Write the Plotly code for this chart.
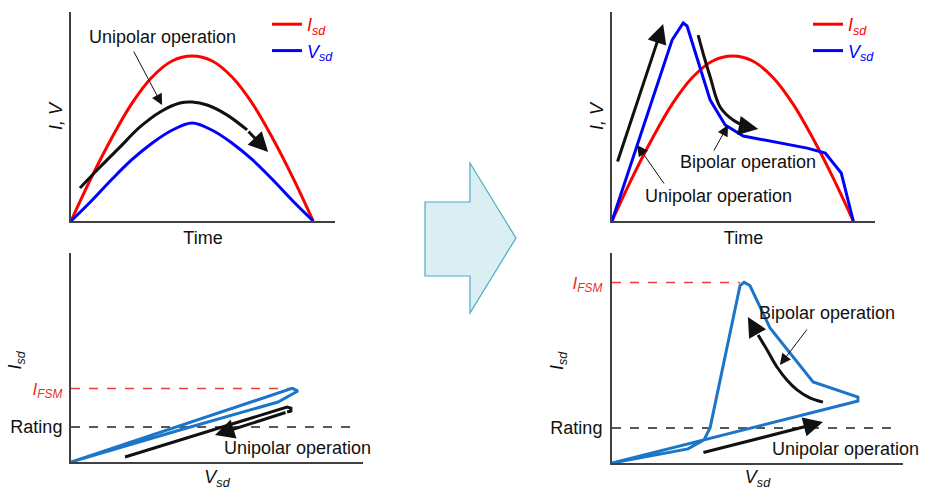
import plotly.graph_objects as go

W, H = 931, 490
FONT = "Liberation Sans, Arial, sans-serif"
RED = "#ff0000"
BLUE = "#0000ff"
LOOP = "#1b75c8"
INK = "#111111"
AXIS = "#404040"
FS = 18

# ---------------- data ----------------
# Panel A: unipolar operation, time waveforms (normalised)
t_a = [0, 0.083, 0.167, 0.25, 0.333, 0.417, 0.5, 0.583, 0.667, 0.75, 0.833, 0.917, 1.0]
isd_a = [0, 0.26, 0.5, 0.71, 0.87, 0.97, 1.0, 0.97, 0.87, 0.71, 0.5, 0.26, 0]
vsd_a = [0, 0.12, 0.25, 0.37, 0.47, 0.55, 0.594, 0.55, 0.47, 0.37, 0.25, 0.12, 0]
arrow_a_t = [0.037, 0.12, 0.202, 0.285, 0.368, 0.45, 0.5, 0.562, 0.645, 0.727]
arrow_a_v = [0.2, 0.327, 0.448, 0.57, 0.661, 0.715, 0.721, 0.703, 0.642, 0.552]
arrow_a_tip = (0.814, 0.418)

# Panel B: unipolar I-V loop
vb_loop = [0, 7.57, 7.77, 7.09, 3.73, 0]
ib_loop = [0, 3.52, 3.40, 2.87, 1.53, 0]
vb_arrow = [1.85, 7.40, 7.53, 7.53, 7.40]
ib_arrow = [0.24, 2.63, 2.58, 2.44, 2.39]
arrow_b_tip = (4.93, 1.29)
IFSM_B = 3.52
RATING = 1.67

# Panel C: bipolar operation, time waveforms
t_c = t_a
isd_c = isd_a
vt_c = [0, 0.249, 0.295, 0.311, 0.407, 0.469, 0.544, 0.697, 0.809, 0.884, 0.95, 1.0]
vv_c = [0, 1.097, 1.2, 1.182, 0.733, 0.582, 0.515, 0.473, 0.442, 0.412, 0.291, 0]
arrow_c1 = [(0.021, 0.352), (0.212, 1.194)]
arrow_c2_t = [0.357, 0.382, 0.407, 0.448, 0.502, 0.56]
arrow_c2_v = [1.127, 0.994, 0.873, 0.691, 0.612, 0.57]
arrow_c2_tip = (0.606, 0.558)

# Panel D: bipolar I-V loop
vd_loop = [0, 2.61, 3.16, 3.37, 4.40, 4.54, 4.74, 5.43, 6.91, 8.45, 8.45, 0]
id_loop = [0, 0.67, 1.10, 1.67, 8.45, 8.60, 8.45, 6.43, 3.86, 3.14, 2.95, 0]
IFSM_D = 8.6
arrow_d1 = [(3.09, 0.48), (7.25, 1.95)]
arrow_d2_v = [7.25, 6.80, 6.36, 6.01, 5.67, 5.33, 5.02]
arrow_d2_i = [2.90, 3.10, 3.48, 3.95, 4.57, 5.38, 6.10]
arrow_d2_tip = (4.67, 6.95)

# ---------------- figure ----------------
fig = go.Figure()


def px_x(p):
    return p / W


def px_y(p):
    return 1 - p / H


def line(x, y, xa, ya, color, width, shape="linear", dash="solid", name=None, legend=None):
    fig.add_trace(go.Scatter(
        x=x, y=y, xaxis=xa, yaxis=ya, mode="lines",
        line=dict(color=color, width=width, shape=shape, dash=dash),
        cliponaxis=False, hoverinfo="skip",
        showlegend=name is not None, name=name,
        legend=legend if legend else "legend",
    ))


def head(xa, ya, tail, tip, width=3, size=1.3, color=INK):
    fig.add_annotation(x=tip[0], y=tip[1], ax=tail[0], ay=tail[1],
                       xref=xa, yref=ya, axref=xa, ayref=ya,
                       showarrow=True, arrowhead=2, arrowsize=size,
                       arrowwidth=width, arrowcolor=color, text="")


def label(xa, ya, x, y, text, size=FS, color=INK, angle=0):
    fig.add_annotation(x=x, y=y, xref=xa, yref=ya, text=text, showarrow=False,
                       xanchor="center", yanchor="middle", textangle=angle,
                       font=dict(family=FONT, size=size, color=color))


I_NAME = "<span style='color:#ff0000'><i>I<sub>sd</sub></i></span>"
V_NAME = "<span style='color:#0000ff'><i>V<sub>sd</sub></i></span>"
IFSM_TXT = "<span style='color:#e8302a;font-size:17px'><i>I<sub>FSM</sub></i></span>"

# Panel A
line(t_a, isd_a, "x", "y", RED, 3, "spline", name=I_NAME, legend="legend")
line(t_a, vsd_a, "x", "y", BLUE, 3, "spline", name=V_NAME, legend="legend")
line(arrow_a_t, arrow_a_v, "x", "y", INK, 3, "spline")
head("x", "y", (arrow_a_t[-1], arrow_a_v[-1]), arrow_a_tip)
label("x", "y", 0.378, 1.115, "Unipolar operation")
head("x", "y", (0.256, 1.036), (0.376, 0.703), width=1, size=2.2)

# Panel B
line([0, 7.67], [IFSM_B, IFSM_B], "x2", "y2", "#f03c3c", 1.5, dash="dash")
line([0, 9.79], [RATING, RATING], "x2", "y2", "#222222", 1.5, dash="dash")
line(vb_loop, ib_loop, "x2", "y2", LOOP, 3)
line(vb_arrow, ib_arrow, "x2", "y2", INK, 3)
head("x2", "y2", (vb_arrow[-1], ib_arrow[-1]), arrow_b_tip)
label("x2", "y2", 7.74, 0.67, "Unipolar operation")
label("x2 domain", "y2 domain", -0.185, 0.49, "<i>I<sub>sd</sub></i>", angle=-90)

# Panel C
line(t_c, isd_c, "x3", "y3", RED, 3, "spline", name=I_NAME, legend="legend2")
line(vt_c, vv_c, "x3", "y3", BLUE, 3, name=V_NAME, legend="legend2")
head("x3", "y3", arrow_c1[0], arrow_c1[1])
line(arrow_c2_t, arrow_c2_v, "x3", "y3", INK, 3, "spline")
head("x3", "y3", (arrow_c2_t[-1], arrow_c2_v[-1]), arrow_c2_tip)
label("x3", "y3", 0.564, 0.358, "Bipolar operation")
head("x3", "y3", (0.419, 0.418), (0.481, 0.582), width=1, size=2.2)
label("x3", "y3", 0.44, 0.152, "Unipolar operation")
head("x3", "y3", (0.22, 0.218), (0.104, 0.461), width=1, size=2.2)

# Panel D
line([0, 4.4], [IFSM_D, IFSM_D], "x4", "y4", "#f03c3c", 1.5, dash="dash")
line([0, 9.79], [RATING, RATING], "x4", "y4", "#222222", 1.5, dash="dash")
line(vd_loop, id_loop, "x4", "y4", LOOP, 3)
head("x4", "y4", arrow_d1[0], arrow_d1[1])
line(arrow_d2_v, arrow_d2_i, "x4", "y4", INK, 3, "spline")
head("x4", "y4", (arrow_d2_v[-1], arrow_d2_i[-1]), arrow_d2_tip)
label("x4", "y4", 7.39, 7.14, "Bipolar operation")
head("x4", "y4", (6.74, 6.43), (5.77, 4.67), width=1, size=2.2)
label("x4", "y4", 8.01, 0.67, "Unipolar operation")
label("x4 domain", "y4 domain", -0.186, 0.49, "<i>I<sub>sd</sub></i>", angle=-90)

# middle block arrow (paper pixels)
arrow_px = [(425, 202), (470, 202), (470, 163), (516, 238), (470, 313), (470, 276), (425, 276)]
path = "M " + " L ".join(f"{px_x(a):.4f},{px_y(b):.4f}" for a, b in arrow_px) + " Z"
fig.add_shape(type="path", path=path, xref="paper", yref="paper",
              fillcolor="#daeef3", line=dict(color="#4bacc6", width=1.2))

base_axis = dict(showgrid=False, zeroline=False, showline=True, linecolor=AXIS,
                 linewidth=2, ticks="", showticklabels=False, fixedrange=True,
                 title_font=dict(family=FONT, size=FS, color=INK))

fig.update_layout(
    width=W, height=H, margin=dict(l=0, r=0, t=0, b=0),
    paper_bgcolor="white", plot_bgcolor="white",
    font=dict(family=FONT, size=FS, color=INK),
    xaxis=dict(base_axis, domain=[px_x(71), px_x(335)], range=[0, 1.09], anchor="y",
               title=dict(text="Time", standoff=9)),
    yaxis=dict(base_axis, domain=[px_y(221), px_y(12)], range=[0, 1.267], anchor="x",
               title=dict(text="<i>I, V</i>", standoff=2)),
    xaxis2=dict(base_axis, domain=[px_x(71), px_x(363)], range=[0, 10], anchor="y2",
                title=dict(text="<i>V<sub>sd</sub></i>", standoff=9)),
    yaxis2=dict(base_axis, domain=[px_y(462), px_y(253)], range=[0, 10], anchor="x2",
                showticklabels=True, tickvals=[IFSM_B, RATING], ticklabelstandoff=3,
                ticktext=[IFSM_TXT, "Rating"],
                tickfont=dict(family=FONT, size=FS, color=INK)),
    xaxis3=dict(base_axis, domain=[px_x(612), px_x(875)], range=[0, 1.09], anchor="y3",
                title=dict(text="Time", standoff=9)),
    yaxis3=dict(base_axis, domain=[px_y(221), px_y(12)], range=[0, 1.267], anchor="x3",
                title=dict(text="<i>I, V</i>", standoff=2)),
    xaxis4=dict(base_axis, domain=[px_x(612), px_x(903)], range=[0, 10], anchor="y4",
                title=dict(text="<i>V<sub>sd</sub></i>", standoff=9)),
    yaxis4=dict(base_axis, domain=[px_y(463), px_y(253)], range=[0, 10], anchor="x4",
                showticklabels=True, tickvals=[IFSM_D, RATING], ticklabelstandoff=4,
                ticktext=[IFSM_TXT, "Rating"],
                tickfont=dict(family=FONT, size=FS, color=INK)),
    legend=dict(x=px_x(267), y=px_y(6), xanchor="left", yanchor="top",
                bgcolor="rgba(0,0,0,0)", font=dict(family=FONT, size=FS),
                tracegroupgap=2),
    legend2=dict(x=px_x(808), y=px_y(6), xanchor="left", yanchor="top",
                 bgcolor="rgba(0,0,0,0)", font=dict(family=FONT, size=FS),
                 tracegroupgap=2),
    showlegend=True,
)

fig.write_html("out.html", config={"displayModeBar": False},
               post_script="document.body.style.margin='0px';")
